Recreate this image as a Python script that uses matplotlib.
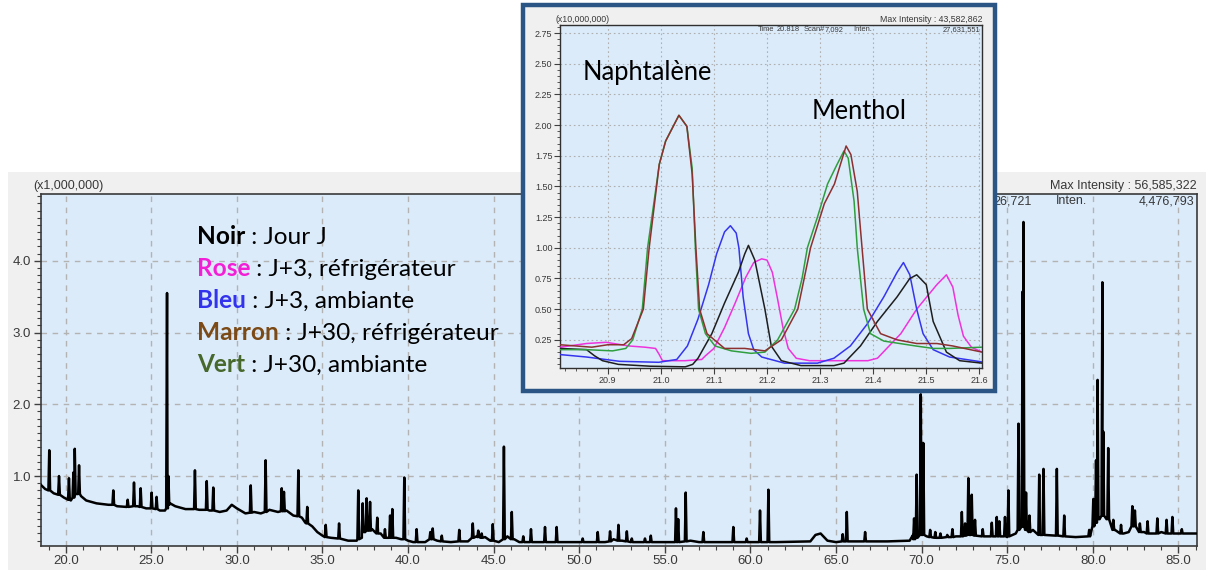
import numpy as np
import matplotlib
matplotlib.use('Agg')
import matplotlib.pyplot as plt
from matplotlib.patches import Rectangle
from matplotlib.text import Annotation
from matplotlib.ticker import MultipleLocator, FormatStrFormatter

# ---------------- data: main chromatogram (x1,000,000) ----------------
base_rt = [18.54, 18.8, 19.3, 19.9, 20.3, 20.45, 20.9, 21.2, 21.8, 22.5, 23.0, 23.5, 24.2, 24.7,
           25.5, 25.8, 26.1, 26.4, 27.0, 27.8, 28.4, 29.0, 29.4, 29.7, 30.0, 30.5, 31.0, 31.4,
           31.9, 32.4, 32.9, 33.3, 33.8, 34.0, 34.4, 34.7, 35.0, 35.5, 36.0, 36.5, 37.0, 37.3,
           37.5, 37.9, 38.4, 38.8, 39.3, 39.6, 40.0, 40.3, 41.0, 41.3, 41.7, 42.5, 43.5, 44.0,
           44.5, 44.8, 45.3, 45.8, 46.2, 46.5, 48.5, 50.0, 51.5, 52.0, 52.5, 53.0, 55.4, 56.5,
           57.0, 60.0, 61.5, 63.5, 63.8, 64.1, 64.5, 65.0, 68.0, 69.3, 69.5, 70.3, 71.0, 72.0,
           73.0, 74.0, 75.0, 75.5, 76.5, 77.0, 78.0, 79.0, 79.7, 80.4, 80.8, 81.3, 81.8, 82.1,
           82.5, 83.0, 84.0, 85.0, 86.1]
base_int = [0.88, 0.82, 0.76, 0.70, 0.66, 0.70, 0.72, 0.66, 0.62, 0.60, 0.58, 0.57, 0.58, 0.55,
            0.52, 0.52, 0.62, 0.58, 0.54, 0.53, 0.52, 0.50, 0.52, 0.60, 0.55, 0.48, 0.50, 0.48,
            0.53, 0.50, 0.52, 0.45, 0.42, 0.35, 0.30, 0.22, 0.17, 0.14, 0.13, 0.10, 0.10, 0.14,
            0.22, 0.26, 0.20, 0.14, 0.14, 0.12, 0.10, 0.08, 0.08, 0.14, 0.10, 0.08, 0.09, 0.16,
            0.15, 0.10, 0.08, 0.16, 0.12, 0.08, 0.08, 0.08, 0.08, 0.12, 0.10, 0.08, 0.08, 0.10,
            0.08, 0.08, 0.08, 0.09, 0.18, 0.20, 0.10, 0.08, 0.09, 0.10, 0.18, 0.16, 0.14, 0.16,
            0.18, 0.16, 0.15, 0.20, 0.25, 0.18, 0.17, 0.15, 0.16, 0.40, 0.40, 0.25, 0.20, 0.22,
            0.30, 0.22, 0.22, 0.20, 0.20]

peak_rt = [19.04, 19.61, 20.19, 20.45, 20.53, 20.78, 22.78, 23.62, 23.99, 24.38, 25.02, 25.31,
           25.92, 26.00, 27.55, 28.24, 28.62, 30.81, 31.68, 32.62, 32.75, 33.59, 34.11, 35.19,
           35.97, 37.09, 37.35, 37.58, 37.78, 38.20, 38.65, 38.95, 39.08, 39.78, 40.50, 41.30,
           41.44, 41.97, 42.99, 43.78, 44.10, 44.30, 44.95, 45.60, 46.06, 46.73, 47.18, 48.00,
           48.68, 50.20, 51.08, 51.80, 52.29, 52.78, 53.07, 53.84, 54.18, 55.65, 55.78, 56.22,
           57.25, 59.00, 59.78, 60.56, 61.05, 65.39, 65.63, 66.70, 69.56, 69.71, 69.95, 70.10,
           70.50, 70.80, 71.10, 71.50, 71.80, 72.35, 72.54, 72.73, 72.93, 73.12, 73.57, 74.10,
           74.39, 74.54, 74.87, 75.07, 75.66, 75.90, 75.95, 76.10, 76.30, 76.87, 77.12, 77.90,
           78.33, 79.79, 80.03, 80.19, 80.28, 80.56, 80.61, 80.90, 81.20, 81.65, 82.31, 82.46,
           82.75, 83.20, 83.77, 84.31, 84.65, 85.20]
peak_top = [1.36, 1.00, 0.97, 1.05, 1.38, 1.15, 0.80, 0.67, 0.91, 0.83, 0.77, 0.71,
            3.55, 1.00, 1.08, 0.93, 0.84, 0.87, 1.22, 0.83, 0.78, 1.08, 0.57, 0.32,
            0.34, 0.80, 0.62, 0.69, 0.64, 0.42, 0.26, 0.45, 0.54, 0.98, 0.26, 0.22,
            0.27, 0.17, 0.25, 0.34, 0.24, 0.20, 0.33, 1.41, 0.50, 0.16, 0.26, 0.29,
            0.29, 0.13, 0.22, 0.23, 0.32, 0.23, 0.13, 0.13, 0.17, 0.55, 0.40, 0.77,
            0.22, 0.29, 0.13, 0.52, 0.81, 0.19, 0.50, 0.22, 0.41, 1.02, 2.14, 1.46,
            0.25, 0.22, 0.20, 0.18, 0.26, 0.50, 0.34, 0.97, 0.74, 0.39, 0.26, 0.35,
            0.43, 0.37, 0.43, 0.80, 1.73, 3.57, 4.54, 0.77, 0.45, 1.02, 1.10, 1.10,
            0.45, 0.25, 0.68, 1.22, 2.34, 3.70, 1.62, 1.39, 0.39, 0.32, 0.58, 0.52,
            0.34, 0.37, 0.41, 0.39, 0.43, 0.26]
peak_foot = [0.80, 0.74, 0.67, 0.70, 0.75, 0.75, 0.60, 0.57, 0.58, 0.57, 0.55, 0.54,
             0.55, 0.60, 0.54, 0.53, 0.52, 0.49, 0.50, 0.51, 0.51, 0.44, 0.34, 0.15,
             0.13, 0.12, 0.22, 0.24, 0.24, 0.20, 0.14, 0.14, 0.14, 0.12, 0.08, 0.12,
             0.12, 0.09, 0.09, 0.14, 0.15, 0.14, 0.10, 0.12, 0.12, 0.08, 0.08, 0.08,
             0.08, 0.08, 0.08, 0.09, 0.10, 0.09, 0.08, 0.08, 0.08, 0.08, 0.08, 0.09,
             0.08, 0.08, 0.08, 0.08, 0.08, 0.09, 0.09, 0.09, 0.12, 0.14, 0.18, 0.18,
             0.15, 0.14, 0.14, 0.15, 0.15, 0.16, 0.17, 0.18, 0.18, 0.17, 0.16, 0.16,
             0.16, 0.16, 0.16, 0.16, 0.25, 0.30, 0.30, 0.25, 0.22, 0.18, 0.18, 0.17,
             0.16, 0.16, 0.30, 0.35, 0.40, 0.45, 0.45, 0.40, 0.25, 0.20, 0.30, 0.30,
             0.22, 0.20, 0.20, 0.20, 0.20, 0.20]

# ---------------- data: inset (x10,000,000) ----------------
noir_x = [20.81, 20.86, 20.875, 20.89, 20.92, 20.98, 21.046, 21.06, 21.07, 21.096, 21.12, 21.146,
          21.158, 21.165, 21.177, 21.196, 21.208, 21.227, 21.264, 21.326, 21.345, 21.376, 21.408,
          21.445, 21.469, 21.482, 21.50, 21.513, 21.538, 21.563, 21.605]
noir_y = [0.18, 0.17, 0.12, 0.08, 0.05, 0.035, 0.03, 0.05, 0.10, 0.30, 0.55, 0.80,
          0.95, 1.02, 0.90, 0.50, 0.20, 0.08, 0.04, 0.04, 0.06, 0.20, 0.40,
          0.60, 0.75, 0.78, 0.70, 0.40, 0.15, 0.08, 0.06]
rose_x = [20.81, 20.86, 20.897, 20.94, 20.97, 20.99, 20.997, 21.003, 21.046, 21.077, 21.084, 21.10,
          21.12, 21.14, 21.16, 21.175, 21.19, 21.20, 21.21, 21.22, 21.23, 21.24, 21.255, 21.28,
          21.39, 21.408, 21.452, 21.482, 21.52, 21.538, 21.55, 21.56, 21.57, 21.585, 21.605]
rose_y = [0.19, 0.22, 0.23, 0.20, 0.19, 0.18, 0.13, 0.08, 0.08, 0.09, 0.12, 0.18,
          0.35, 0.55, 0.76, 0.88, 0.91, 0.90, 0.80, 0.58, 0.35, 0.18, 0.10, 0.08,
          0.08, 0.10, 0.30, 0.50, 0.70, 0.78, 0.68, 0.45, 0.28, 0.19, 0.15]
bleu_x = [20.81, 20.86, 20.922, 20.996, 21.03, 21.05, 21.07, 21.09, 21.105, 21.12, 21.131, 21.142,
          21.147, 21.155, 21.165, 21.175, 21.19, 21.233, 21.295, 21.326, 21.357, 21.389, 21.42,
          21.445, 21.457, 21.469, 21.482, 21.494, 21.513, 21.544, 21.605]
bleu_y = [0.13, 0.11, 0.075, 0.067, 0.09, 0.20, 0.42, 0.70, 0.95, 1.13, 1.18, 1.12,
          1.00, 0.60, 0.30, 0.17, 0.11, 0.06, 0.06, 0.10, 0.20, 0.38, 0.60,
          0.80, 0.88, 0.78, 0.50, 0.30, 0.17, 0.11, 0.07]
marron_x = [20.81, 20.87, 20.90, 20.93, 20.945, 20.967, 20.978, 20.997, 21.009, 21.034, 21.049,
            21.059, 21.066, 21.073, 21.087, 21.12, 21.158, 21.196, 21.227, 21.258, 21.282, 21.308,
            21.327, 21.349, 21.358, 21.37, 21.379, 21.389, 21.414, 21.445, 21.482, 21.52, 21.55,
            21.605]
marron_y = [0.21, 0.19, 0.21, 0.21, 0.26, 0.50, 1.00, 1.68, 1.87, 2.08, 1.99,
            1.60, 1.00, 0.50, 0.30, 0.18, 0.18, 0.16, 0.25, 0.50, 1.00, 1.36,
            1.52, 1.83, 1.76, 1.46, 1.00, 0.50, 0.30, 0.25, 0.22, 0.22, 0.20,
            0.15]
vert_x = [20.81, 20.86, 20.909, 20.934, 20.947, 20.965, 20.975, 20.997, 21.009, 21.034, 21.049,
          21.059, 21.065, 21.071, 21.084, 21.102, 21.133, 21.17, 21.196, 21.22, 21.252, 21.266,
          21.276, 21.295, 21.314, 21.332, 21.345, 21.353, 21.364, 21.37, 21.382, 21.395, 21.42,
          21.45, 21.48, 21.513, 21.544, 21.605]
vert_y = [0.17, 0.17, 0.16, 0.18, 0.25, 0.50, 1.00, 1.68, 1.87, 2.08, 1.99,
          1.65, 1.00, 0.50, 0.30, 0.20, 0.16, 0.14, 0.15, 0.25, 0.50, 0.75,
          1.00, 1.25, 1.52, 1.68, 1.79, 1.73, 1.38, 1.00, 0.50, 0.30, 0.24,
          0.22, 0.20, 0.18, 0.18, 0.19]

legend_names = ["Noir", "Rose", "Bleu", "Marron", "Vert"]
legend_texts = [" : Jour J", " : J+3, réfrigérateur", " : J+3, ambiante",
                " : J+30, réfrigérateur", " : J+30, ambiante"]
legend_colors = ["#000000", "#f21fd6", "#3333ee", "#7b4a16", "#46682c"]

# ---------------- figure ----------------
W, H = 1206, 570
fig = plt.figure(figsize=(W / 100, H / 100), dpi=100)
fig.patch.set_facecolor('white')


def fxy(px, py):
    return px / W, 1 - py / H


def axes_px(l, t, r, b, **kw):
    return fig.add_axes([l / W, 1 - b / H, (r - l) / W, (b - t) / H], **kw)


TICKFONT = 'Liberation Sans'
TXT = '#383838'

# main grey panel
x0, y0 = fxy(8, 570)
x1, y1 = fxy(1206, 172)
fig.patches.append(Rectangle((x0, y0), x1 - x0, y1 - y0, transform=fig.transFigure,
                             facecolor='#f0f0f0', edgecolor='none', zorder=-5))

ax = axes_px(40.7, 194, 1196.7, 545.7)
ax.set_zorder(0)
ax.set_facecolor('#dbebfa')

# build the chromatogram polyline from baseline and peak data
hw = 0.05
vx, vy = [], []
for rt, top, foot in zip(peak_rt, peak_top, peak_foot):
    vx += [rt - hw, rt, rt + hw]
    vy += [foot, top, foot]
for b, v in zip(base_rt, base_int):
    if min(abs(b - r) for r in peak_rt) > hw:
        vx.append(b)
        vy.append(v)
order = np.argsort(vx, kind='stable')
vx = np.asarray(vx)[order]
vy = np.asarray(vy)[order]
ax.plot(vx, vy, color='black', lw=1.8, solid_joinstyle='round', zorder=3)

ax.set_xlim(18.54, 86.07)
ax.set_ylim(0.03, 4.93)
ax.xaxis.set_major_locator(MultipleLocator(5))
ax.xaxis.set_minor_locator(MultipleLocator(1))
ax.yaxis.set_major_locator(MultipleLocator(1))
ax.yaxis.set_minor_locator(MultipleLocator(0.1))
ax.xaxis.set_major_formatter(FormatStrFormatter('%.1f'))
ax.yaxis.set_major_formatter(FormatStrFormatter('%.1f'))
ax.tick_params(which='major', direction='out', length=5, width=1, color='#404040',
               labelsize=9.5, labelcolor=TXT, pad=2)
ax.tick_params(which='minor', direction='out', length=3, width=0.8, color='#404040')
for lab in ax.get_xticklabels() + ax.get_yticklabels():
    lab.set_fontfamily(TICKFONT)
ax.grid(which='major', linestyle=(0, (4, 4)), color='#b3b3b3', lw=1, zorder=1)
ax.set_axisbelow(True)
for s in ax.spines.values():
    s.set_color('#3a3a3a')
    s.set_linewidth(1.2)

fig.text(*fxy(33, 186), '(x1,000,000)', fontsize=9, family=TICKFONT, color=TXT, va='center')
fig.text(*fxy(1197, 186), 'Max Intensity : 56,585,322', fontsize=9, family=TICKFONT,
         color=TXT, va='center', ha='right')
for px, s, ha in [(993, '26,721', 'left'), (1056, 'Inten.', 'left'), (1194, '4,476,793', 'right')]:
    ax.text(*fxy(px, 201), s, transform=fig.transFigure, fontsize=9, family=TICKFONT,
            color=TXT, va='center', ha=ha, zorder=5)

# legend text block
for i, (nm, tx, col) in enumerate(zip(legend_names, legend_texts, legend_colors)):
    by = 244 + 32 * i
    t1 = fig.text(*fxy(197, by), nm, fontsize=17.6, family='Lato', weight='bold',
                  color=col, va='baseline', zorder=4)
    fig.add_artist(Annotation(tx, xy=(1, 0), xycoords=t1, fontsize=17.6, family='Lato',
                              color='black', va='bottom', ha='left', zorder=4))

# ---------------- inset ----------------
ix0, iy0 = fxy(523, 391)
ix1, iy1 = fxy(995, 5)
fig.patches.append(Rectangle((ix0, iy0), ix1 - ix0, iy1 - iy0, transform=fig.transFigure,
                             facecolor='#f0f0f0', edgecolor='#2a5585', lw=3.2, zorder=1))

ia = axes_px(560, 24.5, 982, 368.3)
ia.set_zorder(2)
ia.set_facecolor('#dbebfa')
for xs, ys, c in [(rose_x, rose_y, '#ee33dd'), (bleu_x, bleu_y, '#3535ee'),
                  (noir_x, noir_y, '#1e1e1e'), (vert_x, vert_y, '#2f9e3f'),
                  (marron_x, marron_y, '#8c3030')]:
    ia.plot(xs, ys, color=c, lw=1.1, zorder=3)
ia.set_xlim(20.81, 21.605)
ia.set_ylim(0.018, 2.82)
ia.xaxis.set_major_locator(MultipleLocator(0.1))
ia.xaxis.set_minor_locator(MultipleLocator(0.02))
ia.yaxis.set_major_locator(MultipleLocator(0.25))
ia.yaxis.set_minor_locator(MultipleLocator(0.05))
ia.xaxis.set_major_formatter(FormatStrFormatter('%.1f'))
ia.yaxis.set_major_formatter(FormatStrFormatter('%.2f'))
ia.tick_params(which='major', direction='out', length=4, width=0.8, color='#404040',
               labelsize=6.5, labelcolor=TXT, pad=1.5)
ia.tick_params(which='minor', direction='out', length=2, width=0.6, color='#404040')
for lab in ia.get_xticklabels() + ia.get_yticklabels():
    lab.set_fontfamily(TICKFONT)
ia.grid(which='major', linestyle=(0, (1.5, 2.5)), color='#b0b0b0', lw=0.8)
ia.set_axisbelow(True)
for s in ia.spines.values():
    s.set_color('#303030')
    s.set_linewidth(1.0)

fig.text(*fxy(555, 19), '(x10,000,000)', fontsize=6.3, family=TICKFONT, color=TXT,
         va='center', zorder=5)
fig.text(*fxy(982, 19), 'Max Intensity : 43,582,862', fontsize=6.3, family=TICKFONT,
         color=TXT, va='center', ha='right', zorder=5)
for px, s, ha in [(758, 'Time', 'left'), (777, '20.818', 'left'), (804, 'Scan#', 'left'),
                  (825, '7,092', 'left'), (853, 'Inten.', 'left'), (980, '27,631,551', 'right')]:
    fig.text(*fxy(px, 29.5), s, fontsize=5.4, family=TICKFONT, color=TXT, va='center',
             ha=ha, zorder=5)

fig.text(*fxy(583, 80), 'Naphtalène', fontsize=18.4, family='Lato', color='black',
         va='baseline', zorder=5)
fig.text(*fxy(812, 119), 'Menthol', fontsize=18.4, family='Lato', color='black',
         va='baseline', zorder=5)

fig.savefig('out.png', dpi=100, facecolor='white')
